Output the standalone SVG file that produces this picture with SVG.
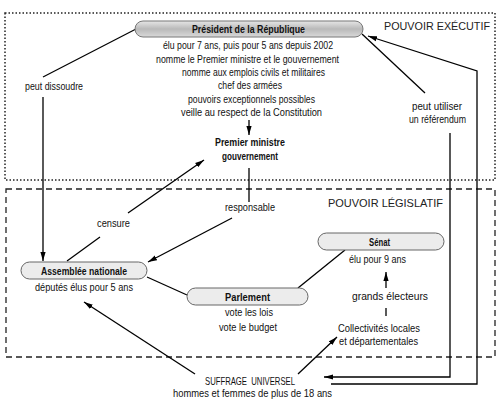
<svg xmlns="http://www.w3.org/2000/svg" width="499" height="403" viewBox="0 0 499 403">
<defs>
<linearGradient id="gp" x1="0" y1="0" x2="0" y2="1">
<stop offset="0" stop-color="#e6e6e6"/>
<stop offset="0.5" stop-color="#b9b9b9"/>
<stop offset="1" stop-color="#d9d9d9"/>
</linearGradient>
<marker id="ah" markerUnits="userSpaceOnUse" markerWidth="10" markerHeight="6" refX="9" refY="3" orient="auto">
<path d="M0,0.4 L9,3 L0,5.6 z" fill="#000"/>
</marker>
<style>
text{font-family:"Liberation Sans Narrow","Liberation Sans",Arial,sans-serif;font-size:11px;fill:#111}
.b{font-weight:bold}
.t{font-size:11.5px;fill:#222}
.pill{fill:#ececec;stroke:#666;stroke-width:1}
.ln{fill:none;stroke:#000;stroke-width:1.3}
.ar{fill:none;stroke:#000;stroke-width:1.3;marker-end:url(#ah)}
</style>
</defs>
<rect width="499" height="403" fill="#fff"/>
<g id="frames">
<rect x="5" y="13" width="490" height="167" fill="none" stroke="#222" stroke-width="1.5" stroke-dasharray="1.5 2"/>
<rect x="6" y="189" width="489" height="168" fill="none" stroke="#222" stroke-width="1.3" stroke-dasharray="6 4"/>
<text class="t" x="384" y="29.5" textLength="106" lengthAdjust="spacingAndGlyphs">POUVOIR EXÉCUTIF</text>
<text class="t" x="328" y="206.5" textLength="115" lengthAdjust="spacingAndGlyphs">POUVOIR LÉGISLATIF</text>
</g>
<g id="connectors">
<line class="ln" x1="43" y1="77" x2="136" y2="29"/>
<line class="ar" x1="43" y1="97" x2="43" y2="261"/>
<line class="ln" x1="362" y1="34" x2="425" y2="93"/>
<polyline class="ar" points="450,133 450,377 324,377"/>
<polyline class="ar" points="331,384 477,384 477,71 368,36"/>
<line class="ar" x1="249" y1="120" x2="249" y2="135"/>
<line class="ln" x1="249" y1="168" x2="249" y2="202"/>
<line class="ar" x1="128" y1="213" x2="204" y2="160"/>
<line class="ln" x1="100" y1="237" x2="67" y2="261"/>
<line class="ar" x1="232" y1="218" x2="148" y2="262"/>
<line class="ln" x1="147" y1="277" x2="187" y2="295"/>
<line class="ln" x1="298" y1="288" x2="345" y2="250"/>
<line class="ar" x1="386" y1="288" x2="386" y2="272"/>
<line class="ln" x1="386" y1="308" x2="386" y2="316"/>
<line class="ar" x1="195" y1="374" x2="84" y2="302"/>
<line class="ar" x1="298" y1="374" x2="337" y2="337"/>
</g>
<g id="president">
<rect x="135" y="21" width="228" height="16" rx="8" fill="url(#gp)" stroke="#777" stroke-width="1"/>
<text class="b" x="192" y="33" textLength="113" lengthAdjust="spacingAndGlyphs">Président de la République</text>
<text x="163" y="49" textLength="170" lengthAdjust="spacingAndGlyphs">élu pour 7 ans, puis pour 5 ans depuis 2002</text>
<text x="156" y="62.5" textLength="183" lengthAdjust="spacingAndGlyphs">nomme le Premier ministre et le gouvernement</text>
<text x="182" y="76" textLength="143" lengthAdjust="spacingAndGlyphs">nomme aux emplois civils et militaires</text>
<text x="218" y="89" textLength="64" lengthAdjust="spacingAndGlyphs">chef des armées</text>
<text x="188" y="102.5" textLength="127" lengthAdjust="spacingAndGlyphs">pouvoirs exceptionnels possibles</text>
<text x="181" y="116" textLength="141" lengthAdjust="spacingAndGlyphs">veille au respect de la Constitution</text>
</g>
<g id="premier-ministre">
<text class="b" x="215" y="146" textLength="70" lengthAdjust="spacingAndGlyphs">Premier ministre</text>
<text class="b" x="222" y="160" textLength="56" lengthAdjust="spacingAndGlyphs">gouvernement</text>
</g>
<g id="labels">
<text x="25" y="90" textLength="58" lengthAdjust="spacingAndGlyphs">peut dissoudre</text>
<text x="412" y="110" textLength="50" lengthAdjust="spacingAndGlyphs">peut utiliser</text>
<text x="409" y="123" textLength="57" lengthAdjust="spacingAndGlyphs">un référendum</text>
<text x="97" y="227" textLength="33" lengthAdjust="spacingAndGlyphs">censure</text>
<text x="225" y="211" textLength="50" lengthAdjust="spacingAndGlyphs">responsable</text>
<text x="352" y="300" textLength="76" lengthAdjust="spacingAndGlyphs">grands électeurs</text>
</g>
<g id="assemblee">
<rect class="pill" x="21" y="262" width="126" height="17" rx="8.5"/>
<text class="b" x="41" y="274.5" textLength="86" lengthAdjust="spacingAndGlyphs">Assemblée nationale</text>
<text x="35" y="291" textLength="98" lengthAdjust="spacingAndGlyphs">députés élus pour 5 ans</text>
</g>
<g id="parlement">
<rect class="pill" x="187" y="288" width="121" height="17" rx="8.5"/>
<text class="b" x="225" y="300.5" textLength="45" lengthAdjust="spacingAndGlyphs">Parlement</text>
<text x="225" y="316" textLength="48" lengthAdjust="spacingAndGlyphs">vote les lois</text>
<text x="219" y="331" textLength="58" lengthAdjust="spacingAndGlyphs">vote le budget</text>
</g>
<g id="senat">
<rect class="pill" x="318" y="233" width="126" height="17" rx="8.5"/>
<text class="b" x="369" y="245.5" textLength="21" lengthAdjust="spacingAndGlyphs">Sénat</text>
<text x="349" y="263" textLength="57" lengthAdjust="spacingAndGlyphs">élu pour 9 ans</text>
</g>
<g id="collectivites">
<text x="338" y="332" textLength="82" lengthAdjust="spacingAndGlyphs">Collectivités locales</text>
<text x="339" y="345" textLength="79" lengthAdjust="spacingAndGlyphs">et départementales</text>
</g>
<g id="suffrage">
<text x="205" y="385" xml:space="preserve" textLength="90" lengthAdjust="spacingAndGlyphs">SUFFRAGE  UNIVERSEL</text>
<text x="173" y="397" textLength="159" lengthAdjust="spacingAndGlyphs">hommes et femmes de plus de 18 ans</text>
</g>
</svg>
